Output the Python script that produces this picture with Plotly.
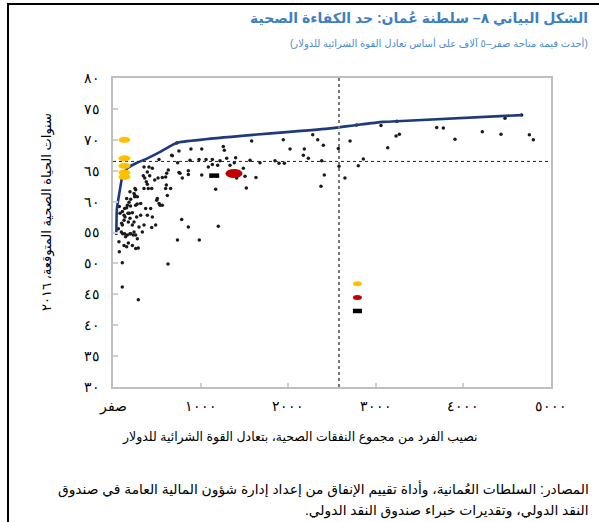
import plotly.graph_objects as go

# ---- canvas / plot-area geometry (pixels) ----
W, H = 599, 522
ML, MR, MT, MB = 113, 48, 78, 135
X_RANGE = [0, 5000]
Y_RANGE = [30, 80]

# ---- countries: health spending per capita (PPP $) vs healthy life expectancy ----
spend = [
    753, 890, 1013, 1259, 1271, 1583, 1944, 2021, 2280, 2337, 2401, 2184, 2173, 2230,
    738, 879, 982, 1062, 1134, 1298, 1564, 1678, 1849, 1895, 1956, 2382,
    753, 860, 860, 791, 1013, 1088, 1134, 1195, 1336, 1385, 1488, 1507, 1412, 1632,
    2412, 2374, 1172, 1522, 1381, 727, 670, 1400, 1221,
    2572, 2706, 2782, 3059, 3239, 3136, 3231, 3269, 3695, 3771, 3904, 4216, 4429,
    4475, 4665, 4753, 4798, 2580, 2800, 2858, 2648,
    525, 677, 354, 411, 449, 392, 346, 362, 419, 380, 392, 354, 403, 476, 514, 563,
    601, 609, 601, 506, 525, 259, 240, 247, 202, 278, 183, 164, 156, 133, 107, 126,
    171, 221, 194, 126, 107, 95, 133, 164, 202, 240, 259, 278, 68, 126, 221, 259,
    449, 487, 736,
    72, 156, 289, 985, 442, 784, 860, 1202, 499, 537, 442, 613, 631, 765, 156, 194,
    251, 251, 277, 200, 72, 80, 137, 186, 270, 99, 175, 61, 110, 194, 232, 144, 175,
    106, 628, 106, 289,
    259, 316, 297, 354, 335, 221, 240, 316, 392, 373, 430, 563, 658, 620,
]
hale = [
    68.2, 68.5, 68.5, 68.9, 68.3, 69.8, 70.0, 68.5, 70.8, 70.0, 69.1, 68.5, 67.5, 67.0,
    66.3, 66.7, 66.8, 66.8, 66.8, 67.0, 66.7, 66.3, 66.6, 66.2, 66.2, 66.6,
    64.7, 65.0, 64.4, 63.8, 64.3, 65.6, 66.0, 65.9, 65.9, 66.3, 65.4, 64.1, 63.8, 63.9,
    64.3, 62.5, 62.0, 62.2, 64.55, 69.5, 67.5, 67.1, 66.6,
    68.6, 69.8, 72.4, 72.3, 73.0, 68.7, 70.6, 70.9, 72.0, 71.9, 70.1, 71.3, 70.9,
    73.5, 74.0, 70.8, 70.0, 65.7, 65.8, 66.9, 63.8,
    66.8, 67.4, 65.6, 65.6, 65.4, 64.8, 64.2, 63.8, 64.2, 63.2, 62.8, 62.1, 62.1, 63.5, 63.8, 63.9,
    64.0, 62.7, 62.1, 60.5, 59.7, 61.9, 61.3, 60.8, 60.4, 60.8, 59.9, 59.4, 59.0, 58.9, 58.4, 57.8,
    58.1, 58.2, 57.3, 57.0, 56.2, 55.1, 54.8, 54.6, 54.8, 55.1, 54.6, 54.0, 53.5, 52.9, 52.9, 52.4,
    57.5, 56.2, 53.8,
    51.9, 52.7, 52.5, 53.8, 55.8, 57.1, 55.9, 56.0, 60.2, 59.4, 62.1, 64.6, 65.1, 64.6, 60.5, 61.6,
    61.0, 62.1, 59.6, 59.3, 59.2, 58.1, 57.5, 58.1, 57.5, 56.5, 56.7, 55.6, 54.8, 54.8, 54.6, 54.3, 53.3,
    50.1, 49.9, 46.2, 44.1,
    59.4, 59.7, 55.9, 56.2, 55.1, 56.2, 56.7, 57.8, 57.8, 58.9, 58.9, 59.4, 62.1, 61.0,
]

# ---- efficiency frontier ----
frontier_x = [38, 45, 68, 88, 106, 163, 277, 392, 506, 620, 727, 2477, 2782, 3085, 3239, 4665]
frontier_y = [54.6, 58.9, 61.0, 62.7, 64.0, 65.4, 66.3, 67.0, 67.8, 68.7, 69.5, 71.85, 72.4, 72.9, 73.0, 74.0]

# ---- Oman and comparators ----
oman_x = [131, 131, 131, 131, 131]
oman_y = [70.0, 67.0, 65.8, 64.7, 64.0]
red_x, red_y = [1381], [64.55]
black_x, black_y = [1155], [64.2]
key_x = [2790, 2790, 2790]
key_y = [46.7, 44.5, 42.3]

ref_hale = 66.5      # dotted horizontal reference
ref_spend = 2580     # vertical reference

# ---- tick labels ----
x_ticks = [0, 1000, 2000, 3000, 4000, 5000]
x_tick_text = ["صفر", "١٠٠٠", "٢٠٠٠", "٣٠٠٠", "٤٠٠٠", "٥٠٠٠"]
y_ticks = [30, 35, 40, 45, 50, 55, 60, 65, 70, 75, 80]
y_tick_text = ["٣٠", "٣٥", "٤٠", "٤٥", "٥٠", "٥٥", "٦٠", "٦٥", "٧٠", "٧٥", "٨٠"]

RLM = "\u200f"
title = "الشكل البياني ٨– سلطنة عُمان: حد الكفاءة الصحية"
subtitle = "(أحدث قيمة متاحة صفر–٥ آلاف على أساس تعادل القوة الشرائية للدولار)"
x_title = "نصيب الفرد من مجموع النفقات الصحية، بتعادل القوة الشرائية للدولار"
y_title = "سنوات الحياة الصحية المتوقعة، ٢٠١٦"
source_1 = "المصادر: السلطات العُمانية، وأداة تقييم الإنفاق من إعداد إدارة شؤون المالية العامة في صندوق"
source_2 = "النقد الدولي، وتقديرات خبراء صندوق النقد الدولي."

PW, PH = W - ML - MR, H - MT - MB
kx = PW / (X_RANGE[1] - X_RANGE[0])   # px per $
ky = PH / (Y_RANGE[1] - Y_RANGE[0])   # px per year


def px_x(p):
    return (p - ML) / PW


def px_y(p):
    return (H - MB - p) / PH


def oval(x, y, wpx, hpx, color, kind="circle"):
    return dict(type=kind, xref="x", yref="y",
                x0=x - wpx / 2 / kx, x1=x + wpx / 2 / kx,
                y0=y - hpx / 2 / ky, y1=y + hpx / 2 / ky,
                fillcolor=color, line=dict(width=0), layer="above")


fig = go.Figure()

fig.add_trace(go.Scatter(
    x=spend, y=hale, mode="markers",
    marker=dict(size=3.5, color="#1a1a1a"), hoverinfo="skip", showlegend=False))

fig.add_trace(go.Scatter(
    x=frontier_x, y=frontier_y, mode="lines",
    line=dict(color="#1f3a7a", width=2.6, shape="spline", smoothing=0.6),
    hoverinfo="skip", showlegend=False))

shapes = []
# reference lines
shapes.append(dict(type="line", xref="paper", yref="y", x0=0, x1=1, y0=ref_hale, y1=ref_hale,
                   line=dict(color="#222", width=1, dash="dot")))
shapes.append(dict(type="line", xref="x", yref="paper", x0=ref_spend, x1=ref_spend, y0=0, y1=1,
                   line=dict(color="#777", width=2, dash="dot")))

# highlighted markers
for xv, yv in zip(oman_x, oman_y):
    shapes.append(oval(xv, yv, 12, 6, "#ffc000"))
shapes.append(oval(red_x[0], red_y[0], 17, 9, "#c00000"))
shapes.append(oval(black_x[0], black_y[0], 10, 4.5, "#000000", kind="rect"))
# key markers
shapes.append(oval(key_x[0], key_y[0], 9, 5, "#ffc000"))
shapes.append(oval(key_x[1], key_y[1], 9, 5, "#c00000"))
shapes.append(oval(key_x[2], key_y[2], 9, 4.5, "#000000", kind="rect"))

# outer frame: top and left rules
shapes.append(dict(type="line", xref="paper", yref="paper", x0=px_x(8), x1=px_x(W), y0=px_y(4), y1=px_y(4),
                   line=dict(color="#000", width=2)))
shapes.append(dict(type="line", xref="paper", yref="paper", x0=px_x(8), x1=px_x(8), y0=px_y(3), y1=px_y(H),
                   line=dict(color="#000", width=2)))

# the Oman dot inside the red mark, drawn on top
fig.add_trace(go.Scatter(x=red_x, y=red_y, mode="markers",
                         marker=dict(size=3.5, color="#1a1a1a"), hoverinfo="skip", showlegend=False))

ar_font = "Arial, DejaVu Sans, sans-serif"
annotations = [
    dict(text=title, x=px_x(590), y=px_y(19), xref="paper", yref="paper", xanchor="right", yanchor="middle",
         showarrow=False, font=dict(family=ar_font, size=14, color="#3d7fc1", weight="bold")),
    dict(text=subtitle, x=px_x(590), y=px_y(44), xref="paper", yref="paper", xanchor="right", yanchor="middle",
         showarrow=False, font=dict(family=ar_font, size=10, color="#4a8bd0")),
    dict(text=x_title, x=px_x(300), y=px_y(437), xref="paper", yref="paper", xanchor="center", yanchor="middle",
         showarrow=False, font=dict(family=ar_font, size=12.5, color="#000")),
    dict(text=y_title, x=px_x(47), y=px_y(212), xref="paper", yref="paper", xanchor="center", yanchor="middle",
         textangle=-90, showarrow=False, font=dict(family=ar_font, size=13, color="#000")),
    dict(text=RLM + source_1 + RLM, x=px_x(591), y=px_y(489), xref="paper", yref="paper",
         xanchor="right", yanchor="middle", showarrow=False, font=dict(family=ar_font, size=13.8, color="#000")),
    dict(text=RLM + source_2 + RLM, x=px_x(591), y=px_y(511), xref="paper", yref="paper",
         xanchor="right", yanchor="middle", showarrow=False, font=dict(family=ar_font, size=13.8, color="#000")),
]

tick_font = dict(family="Liberation Serif, DejaVu Serif, serif", size=14, color="#000")
fig.update_layout(
    width=W, height=H, autosize=False,
    margin=dict(l=ML, r=MR, t=MT, b=MB, pad=0),
    paper_bgcolor="white", plot_bgcolor="white",
    shapes=shapes, annotations=annotations,
    xaxis=dict(range=X_RANGE, tickvals=x_ticks, ticktext=x_tick_text, tickfont=tick_font,
               showgrid=False, zeroline=False, showline=True, mirror=True, linecolor="#bfbfbf", linewidth=2,
               ticks="inside", ticklen=4, tickcolor="#cfcfcf", tickwidth=1.5, ticklabelstandoff=5),
    yaxis=dict(range=Y_RANGE, tickvals=y_ticks, ticktext=y_tick_text, tickfont=tick_font,
               showgrid=False, zeroline=False, showline=True, mirror=True, linecolor="#bfbfbf", linewidth=2,
               ticks="inside", ticklen=5, tickcolor="#cfcfcf", tickwidth=1.5, ticklabelstandoff=8),
)

fig.write_html("out.html")
